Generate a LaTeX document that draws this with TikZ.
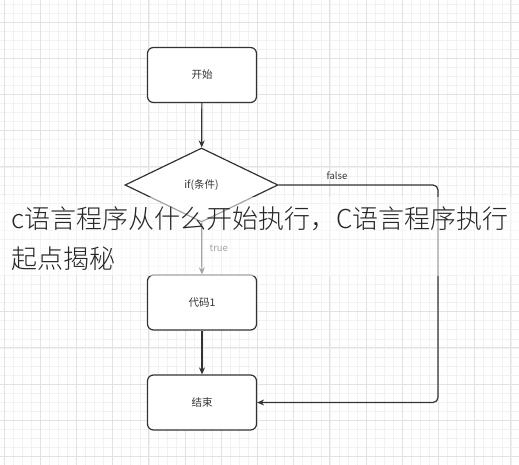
\documentclass[tikz,border=0pt]{standalone}
\usepackage{fontspec}
\usetikzlibrary{shapes.geometric,arrows.meta}
\newfontfamily\cjk{Noto Sans CJK SC}
\newfontfamily\cjklight{Noto Sans CJK SC Light}

\definecolor{inkgray}{HTML}{333333}
\definecolor{gridmajor}{HTML}{E2E2E2}
\definecolor{gridminor}{HTML}{F1F1F1}
\definecolor{titleink}{HTML}{262626}

\tikzset{
  flowbox/.style={draw=inkgray, line width=1.2pt, rounded corners=6pt,
    minimum width=109pt, minimum height=55pt, fill=white,
    font=\cjk\fontsize{10.5}{12}\selectfont, text=inkgray},
  decision/.style={draw=inkgray, line width=1.2pt, diamond, aspect=2.07,
    minimum width=153pt, minimum height=74pt, inner sep=0pt, fill=white,
    font=\cjk\fontsize{10.5}{12}\selectfont, text=inkgray},
  flowarrow/.style={draw=inkgray, line width=1.2pt, -{Stealth[length=7pt,width=6pt]}},
  edgelabel/.style={font=\cjk\fontsize{9.5}{11}\selectfont, text=inkgray},
}

\begin{document}
\begin{tikzpicture}[x=1pt, y=-1pt]
  \useasboundingbox (0,0) rectangle (519,465);
  \fill[white] (0,0) rectangle (519,465);

  % Background grid
  \foreach \k in {-1,...,57} {
    \draw[gridminor, line width=0.5pt] ({4+9.05*\k},0) -- ({4+9.05*\k},465);
  }
  \foreach \k in {-3,...,49} {
    \draw[gridminor, line width=0.5pt] (0,{22+9.05*\k}) -- (519,{22+9.05*\k});
  }
  \foreach \k in {0,...,14} {
    \draw[gridmajor, line width=0.8pt] ({4+36.2*\k},0) -- ({4+36.2*\k},465);
  }
  \foreach \k in {-1,...,12} {
    \draw[gridmajor, line width=0.8pt] (0,{22+36.2*\k}) -- (519,{22+36.2*\k});
  }

  % Flow chart
  \node[flowbox] (start) at (202,75) {开始};
  \node[decision] (cond) at (201.5,185) {if(条件)};
  \node[flowbox] (code) at (202,302.5) {代码1};
  \node[flowbox] (stop) at (202,402.5) {结束};
  \coordinate (turn) at (438,185);

  \draw[flowarrow] (start) -- (cond);
  \draw[flowarrow] (cond) -- node[edgelabel, right, xshift=4pt] {true} (code);
  \draw[flowarrow] (code) -- (stop);
  \draw[flowarrow, rounded corners=5pt] (cond.east) -- (turn) |- (stop.east);
  \node[edgelabel] (falselabel) at (337,176) {false};

  % Washed-out band under the caption
  \fill[white, opacity=0.55] (0,197) rectangle (519,276);

  % Caption text
  \node[anchor=north west, align=left, inner sep=0pt, text=titleink,
    font=\cjklight\fontsize{26}{39.5}\selectfont] (caption) at (11,207)
    {c语言程序从什么开始执行，C语言程序执行\\起点揭秘};
\end{tikzpicture}
\end{document}
